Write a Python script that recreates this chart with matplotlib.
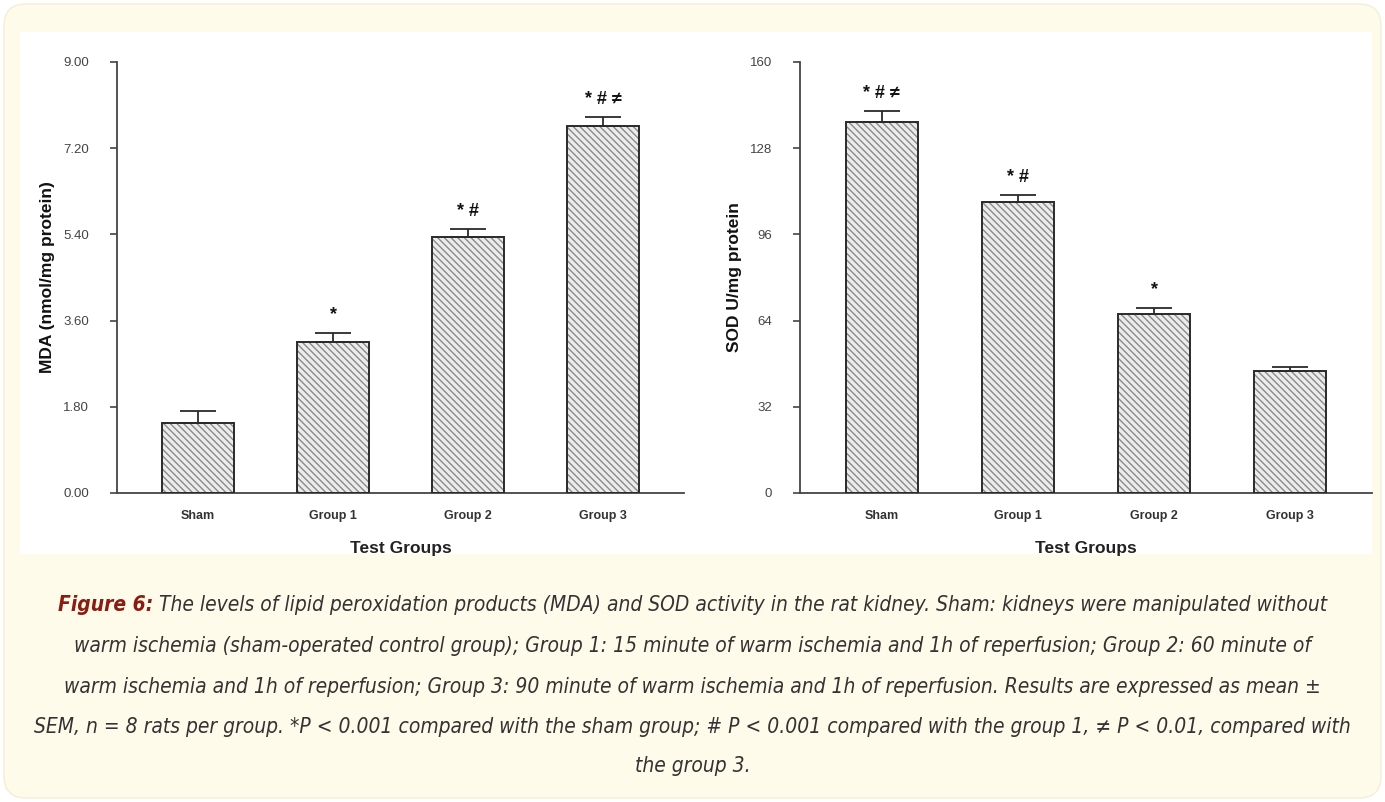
import matplotlib
matplotlib.use("Agg")
import matplotlib.pyplot as plt
import numpy as np
from matplotlib.patches import FancyBboxPatch, Rectangle

groups = ["Sham", "Group 1", "Group 2", "Group 3"]

mda_mean = [1.46, 3.15, 5.35, 7.66]
mda_sem = [0.25, 0.19, 0.16, 0.19]
mda_marks = ["", "*", "* #", "* # \u2260"]

sod_mean = [137.7, 108.0, 66.5, 45.3]
sod_sem = [4.1, 2.6, 2.2, 1.5]
sod_marks = ["* # \u2260", "* #", "*", ""]

caption_head = "Figure 6:"
caption_lines = [
    " The levels of lipid peroxidation products (MDA) and SOD activity in the rat kidney. Sham: kidneys were manipulated without",
    "warm ischemia (sham-operated control group); Group 1: 15 minute of warm ischemia and 1h of reperfusion; Group 2: 60 minute of",
    "warm ischemia and 1h of reperfusion; Group 3: 90 minute of warm ischemia and 1h of reperfusion. Results are expressed as mean \u00b1",
    "SEM, n = 8 rats per group. *P < 0.001 compared with the sham group; # P < 0.001 compared with the group 1, \u2260 P < 0.01, compared with",
    "the group 3.",
]

plt.rcParams["font.family"] = ["Liberation Sans", "DejaVu Sans"]

W, H = 1385, 802
fig = plt.figure(figsize=(W / 100, H / 100), dpi=100)
fig.patch.set_facecolor("white")

# cream frame and white panel behind the charts
bg = fig.add_axes([0, 0, 1, 1])
bg.set_xlim(0, W)
bg.set_ylim(H, 0)
bg.axis("off")
bg.add_patch(FancyBboxPatch((4, 4), W - 8, H - 8, boxstyle="round,pad=0,rounding_size=22",
                            facecolor="#fefbea", edgecolor="#f3eed6", linewidth=1))
bg.add_patch(Rectangle((20, 32), 1352, 522, facecolor="white", edgecolor="none"))

axis_col = "#444444"


def draw_panel(ax, means, sems, marks, ymax, ticks, fmt, ylabel):
    x = np.arange(len(groups))
    ax.bar(x, means, width=0.53, color="#ececec", edgecolor="#8a8a8a", hatch="\\\\\\\\\\",
           linewidth=0, zorder=2)
    ax.bar(x, means, width=0.53, fill=False, edgecolor="#2a2a2a", linewidth=1.4, zorder=3)
    ax.errorbar(x, means, yerr=[np.zeros(len(sems)), sems], fmt="none", ecolor="#2a2a2a",
                elinewidth=1.3, capsize=13, capthick=1.3, zorder=4)
    for xi, m, s, t in zip(x, means, sems, marks):
        if t:
            ax.text(xi, m + s + ymax * 0.022, t, ha="center", va="bottom", fontsize=13,
                    fontweight="bold", color="#111111", zorder=5)
    ax.set_xlim(-0.6, 3.6)
    ax.set_ylim(0, ymax)
    ax.set_yticks(ticks)
    ax.set_yticklabels([fmt.format(t) for t in ticks])
    ax.set_xticks(x)
    ax.set_xticklabels(groups, fontsize=9, fontweight="bold", color="#333333")
    ax.tick_params(axis="x", length=0, pad=12)
    ax.tick_params(axis="y", labelsize=9.5, length=5, width=1.2, direction="out", pad=15,
                   labelcolor="#444444", color=axis_col)
    ax.spines["top"].set_visible(False)
    ax.spines["right"].set_visible(False)
    for sp in ("left", "bottom"):
        ax.spines[sp].set_linewidth(1.3)
        ax.spines[sp].set_color(axis_col)
    ax.set_facecolor("none")
    ax.set_xlabel("Test Groups", fontsize=12.5, fontweight="bold", labelpad=14, color="#222222")
    ax.set_ylabel(ylabel, fontsize=12.5, fontweight="bold", labelpad=6, color="#111111")


ax1 = fig.add_axes([117 / W, 1 - 493 / H, 567 / W, 431 / H])
draw_panel(ax1, mda_mean, mda_sem, mda_marks, 9.0, [0, 1.8, 3.6, 5.4, 7.2, 9.0], "{:.2f}",
           "MDA (nmol/mg protein)")

ax2 = fig.add_axes([800 / W, 1 - 493 / H, 572 / W, 431 / H])
draw_panel(ax2, sod_mean, sod_sem, sod_marks, 160, [0, 32, 64, 96, 128, 160], "{:.0f}",
           "SOD U/mg protein")

# caption
cap_font = ["DejaVu Sans"]
cap_size = 15
line_y = [605, 646, 687, 727, 766]
fig.canvas.draw()
renderer = fig.canvas.get_renderer()
head = bg.text(0, line_y[0], caption_head, fontsize=cap_size, fontstyle="italic", fontweight="bold",
               color="#8b1c12", family=cap_font, fontstretch="condensed", va="center", ha="left")
rest = bg.text(0, line_y[0], caption_lines[0], fontsize=cap_size, fontstyle="italic",
               color="#333333", family=cap_font, fontstretch="condensed", va="center", ha="left")
wh = head.get_window_extent(renderer).width
wr = rest.get_window_extent(renderer).width
x0 = W / 2 - (wh + wr) / 2
head.set_x(x0)
rest.set_x(x0 + wh)
for txt, yy in zip(caption_lines[1:], line_y[1:]):
    bg.text(W / 2, yy, txt, fontsize=cap_size, fontstyle="italic", color="#333333",
            family=cap_font, fontstretch="condensed", va="center", ha="center")

fig.savefig("out.png", dpi=100)
